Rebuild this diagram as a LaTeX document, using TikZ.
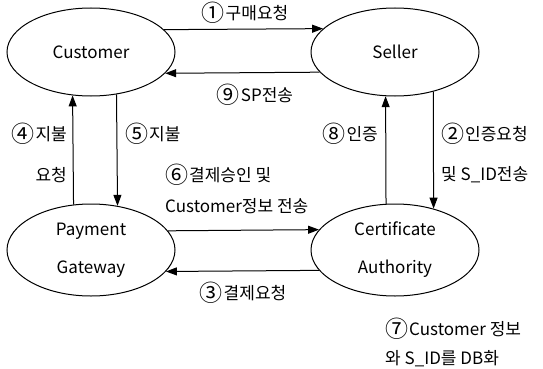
\documentclass[tikz,border=0pt]{standalone}
\usepackage{fontspec}
\setmainfont{Noto Sans CJK KR}
\usetikzlibrary{arrows.meta,shapes.geometric}
\newcommand\cnum[1]{\raisebox{-0.12em}{\fontsize{23}{23}\selectfont #1}\kern1pt}
\tikzset{
  ent/.style={draw, ellipse, line width=1pt, minimum width=168pt, minimum height=88pt, inner sep=1pt, align=center, font=\fontsize{17}{38}\selectfont},
  entb/.style={ent, minimum height=92pt},
  flow/.style={line width=1pt, -{Triangle[length=11pt,width=8pt]}},
  lbl/.style={font=\fontsize{17}{20}\selectfont, inner sep=0pt}
}
\begin{document}
\begin{tikzpicture}[x=1pt,y=-1pt]
\useasboundingbox (0,0) rectangle (543,369);
\node[ent] (cust) at (91,52) {Customer};
\node[ent] (sell) at (395,52) {Seller};
\node[entb] (pay) at (91,250) {Payment\\Gateway};
\node[entb] (ca) at (395,250) {Certificate\\Authority};

% horizontal flows
\draw[flow] (cust.17.8) -- (sell.162.2);
\draw[flow] (sell.195.9) -- (cust.344.1);
\draw[flow] (pay.14.8) -- (ca.165.2);
\draw[flow] (ca.195.7) -- (pay.344.3);
% vertical flows
\draw[flow] (pay.111.8) -- (cust.247.3);
\draw[flow] (cust.301.9) -- (pay.59.2);
\draw[flow] (ca.101.1) -- (sell.258.4);
\draw[flow] (sell.314.1) -- (ca.47.2);

% labels
\node[lbl] (l1) at (245,13) {\cnum{①}구매요청};
\node[lbl] (l9) at (255,95) {\cnum{⑨}SP전송};
\node[lbl, anchor=east] (l4a) at (67,134) {\cnum{④}지불};
\node[lbl, anchor=east] (l4b) at (67,175) {요청};
\node[lbl, anchor=west] (l5) at (125,134) {\cnum{⑤}지불};
\node[lbl, anchor=west] (l6a) at (165,175) {\cnum{⑥}결제승인 및};
\node[lbl, anchor=west] (l6b) at (165,206) {Customer정보 전송};
\node[lbl, anchor=east] (l8) at (378,134) {\cnum{⑧}인증};
\node[lbl, anchor=west] (l2a) at (441,134) {\cnum{②}인증요청};
\node[lbl, anchor=west] (l2b) at (441,175) {및 S\_ID전송};
\node[lbl] (l3) at (243,293) {\cnum{③}결제요청};
\node[lbl, anchor=west] (l7a) at (385,329) {\cnum{⑦}Customer 정보};
\node[lbl, anchor=west] (l7b) at (385,359) {와 S\_ID를 DB화};
\end{tikzpicture}
\end{document}
